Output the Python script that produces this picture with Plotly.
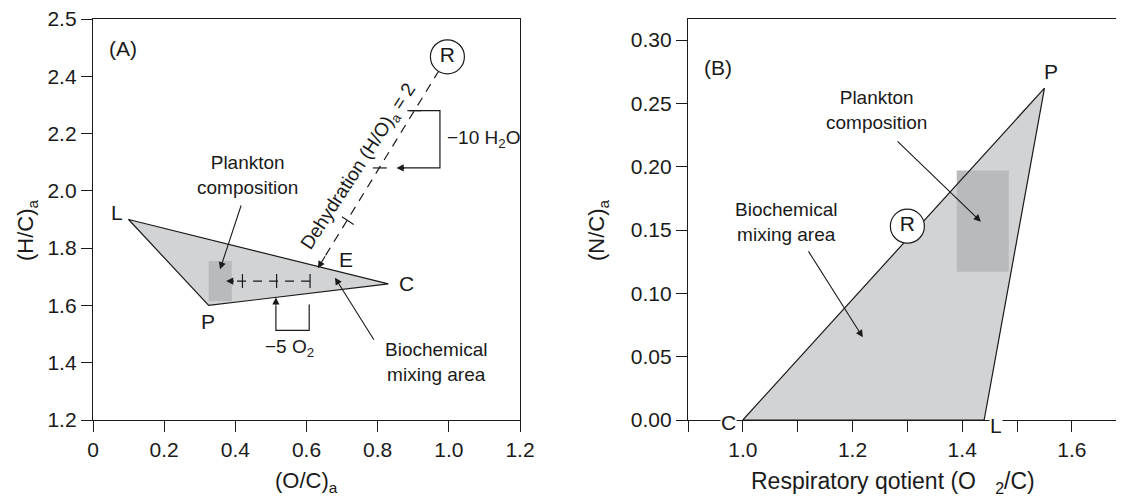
import plotly.graph_objects as go

# --- Panel A data: (O/C)a vs (H/C)a ---
a_poly_x = [0.10, 0.325, 0.83, 0.10]          # L, P, C, L
a_poly_y = [1.90, 1.60, 1.675, 1.90]
a_rect_x = [0.325, 0.39, 0.39, 0.325, 0.325]  # plankton composition box
a_rect_y = [1.615, 1.615, 1.755, 1.755, 1.615]
a_r_x, a_r_y = [0.996], [2.468]               # R (respiration) point
a_dehyd_x = [0.996, 0.645]                    # dehydration line R -> E
a_dehyd_y = [2.468, 1.757]
a_oxy_x = [0.61, 0.40]                        # -5 O2 dashed line
a_oxy_y = [1.685, 1.685]
a_oxy_ticks_x = [0.42, 0.516, 0.61]
a_h2o_x = [0.89, 0.975, 0.975, 0.87]          # -10 H2O bracket
a_h2o_y = [2.28, 2.28, 2.08, 2.08]
a_o2_x = [0.6076, 0.6076, 0.514, 0.514]       # -5 O2 bracket
a_o2_y = [1.6035, 1.513, 1.513, 1.60]
a_xticks = [0, 0.2, 0.4, 0.6, 0.8, 1.0, 1.2]
a_xlabels = ["0", "0.2", "0.4", "0.6", "0.8", "1.0", "1.2"]
a_yticks = [1.2, 1.4, 1.6, 1.8, 2.0, 2.2, 2.4, 2.6]
a_ylabels = ["1.2", "1.4", "1.6", "1.8", "2.0", "2.2", "2.4", "2.5"]

# --- Panel B data: respiratory quotient vs (N/C)a ---
b_poly_x = [1.0, 1.55, 1.44, 1.0]             # C, P, L, C
b_poly_y = [0.0, 0.262, 0.0, 0.0]
b_rect_x = [1.39, 1.485, 1.485, 1.39, 1.39]
b_rect_y = [0.117, 0.117, 0.197, 0.197, 0.117]
b_r_x, b_r_y = [1.30], [0.153]
b_xticks = [0.9, 1.0, 1.1, 1.2, 1.3, 1.4, 1.5, 1.6]
b_xlabels = ["", "1.0", "", "1.2", "", "1.4", "", "1.6"]
b_yticks = [0.0, 0.05, 0.10, 0.15, 0.20, 0.25, 0.30]
b_ylabels = ["0.00", "0.05", "0.10", "0.15", "0.20", "0.25", "0.30"]

FILL = "#d2d3d5"
BOX = "#b9babd"
INK = "#1a1a1a"
FONT = "Liberation Sans, Arial, sans-serif"
# the page body has an 8px margin, so the figure is a bit smaller than the window
OFF = 8
W, H = 1124 - OFF, 499 - OFF

def px(p):   # page x pixel -> paper fraction
    return (p - OFF) / W

def py(p):   # page y pixel (from top) -> paper fraction
    return 1 - (p - OFF) / H

fig = go.Figure()

def polygon(x, y, xa, ya):
    fig.add_trace(go.Scatter(x=x, y=y, xaxis=xa, yaxis=ya, mode="lines", fill="toself",
                             fillcolor=FILL, line=dict(width=0), hoverinfo="skip"))

def outline(x, y, xa, ya, dash="solid", width=1.2):
    fig.add_trace(go.Scatter(x=x, y=y, xaxis=xa, yaxis=ya, mode="lines",
                             line=dict(color=INK, width=width, dash=dash), hoverinfo="skip"))

def box(x, y, xa, ya):
    fig.add_trace(go.Scatter(x=x, y=y, xaxis=xa, yaxis=ya, mode="lines", fill="toself",
                             fillcolor=BOX, line=dict(width=0), hoverinfo="skip"))

def ticks(x, y, xa, ya, symbol, angle=0):
    fig.add_trace(go.Scatter(x=x, y=y, xaxis=xa, yaxis=ya, mode="markers",
                             marker=dict(symbol=symbol, size=10, angle=angle,
                                         line=dict(color=INK, width=1.2)), hoverinfo="skip"))

def r_mark(x, y, xa, ya):
    fig.add_trace(go.Scatter(x=x, y=y, xaxis=xa, yaxis=ya, mode="markers+text", text=["R"],
                             textposition="middle center", textfont=dict(size=21, color=INK),
                             marker=dict(size=34, color="white", line=dict(color=INK, width=1.2)),
                             hoverinfo="skip"))

# panel A
polygon(a_poly_x, a_poly_y, "x", "y")
box(a_rect_x, a_rect_y, "x", "y")
outline(a_poly_x, a_poly_y, "x", "y")
outline(a_dehyd_x, a_dehyd_y, "x", "y", dash="9px,7px")
outline(a_oxy_x, a_oxy_y, "x", "y", dash="9px,7px")
ticks(a_oxy_ticks_x, [1.685] * 3, "x", "y", "line-ns")
ticks([0.716], [1.896], "x", "y", "line-ns", angle=-57)
ticks([0.806, 0.903], [2.08, 2.28], "x", "y", "line-ew")
outline(a_h2o_x, a_h2o_y, "x", "y")
outline(a_o2_x, a_o2_y, "x", "y")
r_mark(a_r_x, a_r_y, "x", "y")

# panel B
polygon(b_poly_x, b_poly_y, "x2", "y2")
box(b_rect_x, b_rect_y, "x2", "y2")
outline(b_poly_x, b_poly_y, "x2", "y2")
r_mark(b_r_x, b_r_y, "x2", "y2")

ann = []

def label(text, x, y, xa, ya, size=21, **kw):
    kw.setdefault("xanchor", "center")
    kw.setdefault("yanchor", "middle")
    ann.append(dict(text=text, x=x, y=y, xref=xa, yref=ya, showarrow=False,
                    font=dict(size=size, color=INK), **kw))

def arrow(x, y, ax, ay, xa, ya):
    ann.append(dict(text="", x=x, y=y, ax=ax, ay=ay, xref=xa, yref=ya, axref=xa, ayref=ya,
                    showarrow=True, arrowhead=2, arrowsize=1.3, arrowwidth=1.1, arrowcolor=INK))

# panel A texts
label("(A)", 0.084, 2.498, "x", "y")
label("L", 0.067, 1.926, "x", "y")
label("P", 0.323, 1.545, "x", "y")
label("C", 0.881, 1.677, "x", "y")
label("E", 0.712, 1.761, "x", "y")
label("Plankton<br>composition", 0.435, 2.055, "x", "y", size=19)
arrow(0.357, 1.726, 0.4176, 1.954, "x", "y")
label("Biochemical<br>mixing area", 0.965, 1.402, "x", "y", size=19)
arrow(0.680, 1.697, 0.792, 1.475, "x", "y")
label("Dehydration (H/O)<sub>a</sub> = 2", 0.747, 2.084, "x", "y", size=19, textangle=-57)
label("−10 H<sub>2</sub>O", 0.99, 2.18, "x", "y", size=19, xanchor="left")
label("−5 O<sub>2</sub>", 0.553, 1.453, "x", "y", size=19)
arrow(0.853, 2.08, 0.88, 2.08, "x", "y")
arrow(0.514, 1.628, 0.514, 1.595, "x", "y")
arrow(0.374, 1.685, 0.40, 1.685, "x", "y")
arrow(0.632, 1.73, 0.655, 1.777, "x", "y")

# panel B texts
label("(B)", 0.9545, 0.278, "x2", "y2")
label("P", 1.561, 0.275, "x2", "y2")
label("C", 0.973, 0.0, "x2", "y2", bgcolor="white", yshift=-2, borderpad=0)
label("L", 1.461, 0.0, "x2", "y2", bgcolor="white", yshift=-5, borderpad=0)
label("Plankton<br>composition", 1.2436, 0.2445, "x2", "y2", size=19)
arrow(1.434, 0.1566, 1.2794, 0.2212, "x2", "y2")
label("Biochemical<br>mixing area", 1.0794, 0.156, "x2", "y2", size=19)
arrow(1.2188, 0.0653, 1.118, 0.1343, "x2", "y2")

# axis titles
label("(H/C)<sub>a</sub>", px(27), py(230), "paper", "paper", size=22, textangle=-90)
label("(O/C)<sub>a</sub>", px(306), py(482), "paper", "paper", size=22)
label("(N/C)<sub>a</sub>", px(598), py(230), "paper", "paper", size=22, textangle=-90)
label("Respiratory qotient (O   <sub>2</sub>/C)", px(893), py(482), "paper", "paper", size=23)

axis_common = dict(showgrid=False, zeroline=False, showline=True, linecolor=INK, linewidth=1.3,
                   ticks="outside", ticklen=11, tickwidth=1.3, tickcolor=INK,
                   tickfont=dict(size=21, color=INK), tickmode="array",
                   ticklabeloverflow="allow")
ydom = [py(420), py(19)]

fig.update_layout(
    width=W, height=H, showlegend=False,
    margin=dict(l=0, r=0, t=0, b=0, autoexpand=False),
    paper_bgcolor="white", plot_bgcolor="white",
    font=dict(family=FONT, color=INK),
    xaxis=dict(domain=[px(93), px(520)], range=[0, 1.2], tickvals=a_xticks, ticktext=a_xlabels,
               mirror=True, anchor="y", **axis_common),
    yaxis=dict(domain=ydom, range=[1.2, 2.6], tickvals=a_yticks, ticktext=a_ylabels,
               mirror=True, anchor="x", **axis_common),
    xaxis2=dict(domain=[px(688), 1.0], range=[0.9, 1.695], tickvals=b_xticks, ticktext=b_xlabels,
                mirror=True, anchor="y2", **axis_common),
    yaxis2=dict(domain=ydom, range=[0, 0.3166], tickvals=b_yticks, ticktext=b_ylabels,
                anchor="x2", **axis_common),
    annotations=ann,
)

fig.write_html("out.html")
